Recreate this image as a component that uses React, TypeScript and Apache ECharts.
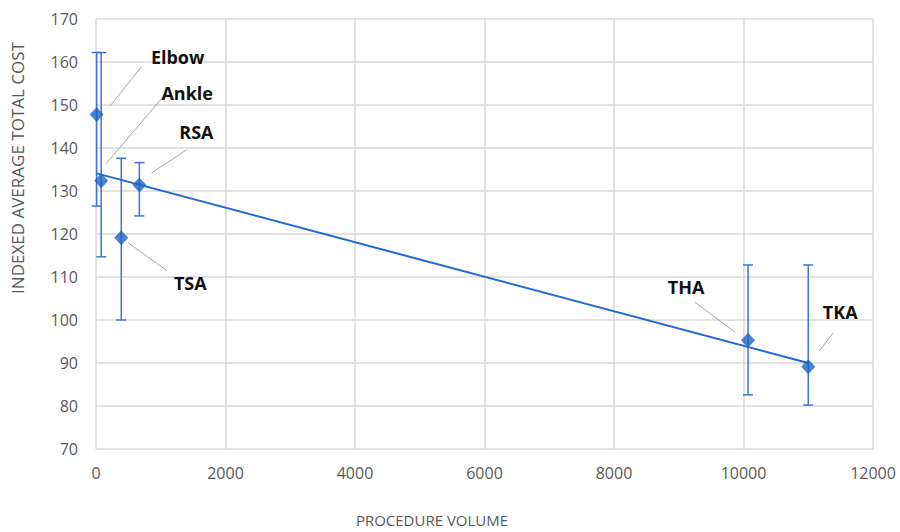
import React, { useEffect, useRef } from "react";
import * as echarts from "echarts";

const procedures = ["Elbow", "Ankle", "TSA", "RSA", "THA", "TKA"];
const volumes = [10, 80, 390, 670, 10070, 11000];
const costs = [147.8, 132.4, 119.1, 131.4, 95.3, 89.1];
const errLow = [126.5, 114.7, 100.0, 124.2, 82.6, 80.2];
const errHigh = [162.2, 162.2, 137.6, 136.6, 112.8, 112.8];
const trendX = [10, 11000];
const trendY = [134.1, 90.0];
const xMin = 0;
const xMax = 12000;
const xStep = 2000;
const yMin = 70;
const yMax = 170;
const yStep = 10;
const xTitle = "PROCEDURE VOLUME";
const yTitle = "INDEXED AVERAGE TOTAL COST";

// label placement (pixel offsets from the point): text centre, leader start, leader end
const labelOffsets: Record<string, { t: number[]; a: number[]; b: number[] }> = {
  Elbow: { t: [81, -57], a: [13, -8], b: [45, -48] },
  Ankle: { t: [86, -88], a: [5, -17], b: [62, -84] },
  TSA: { t: [69, 45], a: [7, 5], b: [46, 33] },
  RSA: { t: [57, -53], a: [12, -12], b: [47, -35] },
  THA: { t: [-62, -53], a: [-13, -8], b: [-53, -38] },
  TKA: { t: [32, -55], a: [11, -16], b: [25, -34] },
};

const FONT = '"Open Sans", "Noto Sans", sans-serif';

export default function App() {
  const ref = useRef<HTMLDivElement>(null);
  useEffect(() => {
    if (!ref.current) return;
    const chart = echarts.init(ref.current, undefined, { renderer: "svg" });
    const errData = volumes.map((v, i) => [v, errLow[i], errHigh[i]]);
    chart.setOption({
      animation: false,
      backgroundColor: "#ffffff",
      grid: { left: 96, right: 27, top: 19, bottom: 83, outerBoundsMode: "none", containLabel: false },
      xAxis: {
        type: "value",
        min: xMin,
        max: xMax,
        interval: xStep,
        axisLine: { show: false },
        axisTick: { show: false },
        axisLabel: {
          color: "#595959",
          fontSize: 16,
          fontFamily: FONT,
          margin: 16,
          formatter: (v: number) => String(v),
        },
        splitLine: { show: true, lineStyle: { color: "#d9d9d9", width: 1.5 } },
      },
      yAxis: {
        type: "value",
        min: yMin,
        max: yMax,
        interval: yStep,
        axisLine: { show: false },
        axisTick: { show: false },
        axisLabel: { color: "#595959", fontSize: 16, fontFamily: FONT, margin: 18 },
        splitLine: { show: true, lineStyle: { color: "#d9d9d9", width: 1.5 } },
      },
      series: [
        {
          type: "custom",
          data: errData,
          z: 2,
          renderItem: (params: any, api: any) => {
            const x = api.value(0);
            const lo = api.coord([x, api.value(1)]);
            const hi = api.coord([x, api.value(2)]);
            const w = 5;
            const st = { stroke: "#3f74d4", lineWidth: 1.5 };
            return {
              type: "group",
              children: [
                { type: "line", shape: { x1: lo[0], y1: lo[1], x2: hi[0], y2: hi[1] }, style: st },
                { type: "line", shape: { x1: lo[0] - w, y1: lo[1], x2: lo[0] + w, y2: lo[1] }, style: st },
                { type: "line", shape: { x1: hi[0] - w, y1: hi[1], x2: hi[0] + w, y2: hi[1] }, style: st },
              ],
            };
          },
        },
        {
          type: "line",
          data: trendX.map((x, i) => [x, trendY[i]]),
          symbol: "none",
          z: 3,
          lineStyle: { color: "#1f6bcf", width: 2 },
        },
        {
          type: "scatter",
          data: volumes.map((v, i) => [v, costs[i]]),
          symbol: "diamond",
          symbolSize: [14, 15],
          z: 4,
          itemStyle: { color: "#1a63c4" },
        },
      ],
    });

    const graphics: any[] = [];
    procedures.forEach((name, i) => {
      const p = chart.convertToPixel({ gridIndex: 0 }, [volumes[i], costs[i]]) as number[];
      const o = labelOffsets[name];
      graphics.push({
        type: "line",
        silent: true,
        shape: { x1: p[0] + o.a[0], y1: p[1] + o.a[1], x2: p[0] + o.b[0], y2: p[1] + o.b[1] },
        style: { stroke: "#a6a6a6", lineWidth: 1 },
      });
      graphics.push({
        type: "text",
        silent: true,
        x: p[0] + o.t[0],
        y: p[1] + o.t[1],
        style: {
          text: name,
          fill: "#111111",
          fontSize: 18,
          fontWeight: "bold",
          fontFamily: FONT,
          align: "center",
          verticalAlign: "middle",
        },
      });
    });
    graphics.push({
      type: "text",
      silent: true,
      x: 432,
      y: 520,
      style: {
        text: xTitle,
        fill: "#595959",
        fontSize: 15,
        fontFamily: FONT,
        align: "center",
        verticalAlign: "middle",
      },
    });
    graphics.push({
      type: "text",
      silent: true,
      x: 17,
      y: 168,
      rotation: Math.PI / 2,
      style: {
        text: yTitle,
        fill: "#595959",
        fontSize: 17,
        fontFamily: FONT,
        align: "center",
        verticalAlign: "middle",
      },
    });
    chart.setOption({ graphic: graphics });

    return () => chart.dispose();
  }, []);
  return <div ref={ref} style={{ position: "fixed", left: 0, top: 0, width: 900, height: 532 }} />;
}
